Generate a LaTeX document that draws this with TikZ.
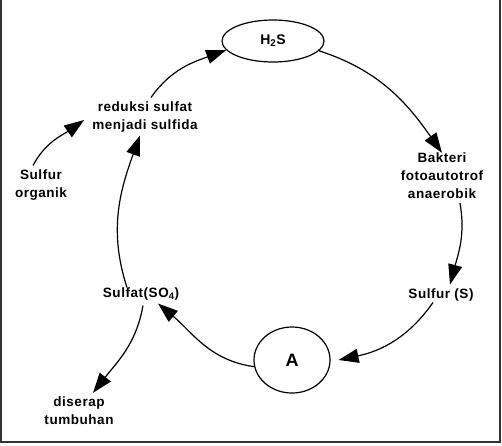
\documentclass[tikz,border=0pt]{standalone}
\usepackage{fontspec}
\setmainfont{Liberation Sans}[LetterSpace=4]
\usetikzlibrary{arrows.meta,shapes.geometric}
\begin{document}
\begin{tikzpicture}[x=1pt,y=1pt,
  lbl/.style={font=\bfseries\fontsize{13.5}{18}\selectfont, align=center, inner sep=2pt},
  ring/.style={draw, ellipse, line width=1.2pt, inner sep=0pt, font=\bfseries\fontsize{14}{18}\selectfont},
  arr/.style={line width=1.2pt, -{Triangle[length=20pt,width=14pt]}}]
\useasboundingbox (0,0) rectangle (502,-445);
\draw[line width=2pt, black!80] (1,0) -- (1,-442) -- (500,-442) -- (500,0);

\node[ring, minimum width=102pt, minimum height=42pt] (h2s) at (273,-41) {H\textsubscript{2}S};
\node[ring, minimum width=76pt, minimum height=66pt, font=\bfseries\fontsize{18}{20}\selectfont] (A) at (292,-360) {A};
\node[lbl] (red) at (145,-117) {reduksi sulfat\\menjadi sulfida};
\node[lbl] (org) at (41,-185) {Sulfur\\organik};
\node[lbl] (bak) at (442,-176) {Bakteri\\fotoautotrof\\anaerobik};
\node[lbl] (sulS) at (441,-295) {Sulfur (S)};
\node[lbl] (sulfat) at (141,-294) {Sulfat(SO\textsubscript{4})};
\node[lbl] (dis) at (79,-411) {diserap\\tumbuhan};

\draw[arr] ([xshift=6pt,yshift=2pt]red.north) to[out=55,in=200] (h2s.191);
\draw[arr] (h2s.-12) to[out=-18,in=125] ([yshift=-2pt]bak.north);
\draw[arr] ([xshift=18pt,yshift=-2pt]bak.south) to[out=-80,in=75] ([xshift=9pt,yshift=2pt]sulS.north);
\draw[arr] ([xshift=-8pt,yshift=1pt]sulS.south) to[out=-125,in=12] ([xshift=8pt]A.east);
\draw[arr] (A.190) to[out=172,in=-40] ([xshift=17pt,yshift=-1pt]sulfat.south);
\draw[arr] ([xshift=-14pt,yshift=-2pt]sulfat.north) to[out=108,in=-110] ([xshift=-5pt,yshift=-1pt]red.south);
\draw[arr] ([xshift=-8pt,yshift=2pt]org.north) to[out=62,in=-145] ([xshift=-6pt,yshift=-3pt]red.west);
\draw[arr] ([xshift=2pt,yshift=-3pt]sulfat.south) to[out=-100,in=52] ([xshift=14pt,yshift=2pt]dis.north);
\end{tikzpicture}
\end{document}
